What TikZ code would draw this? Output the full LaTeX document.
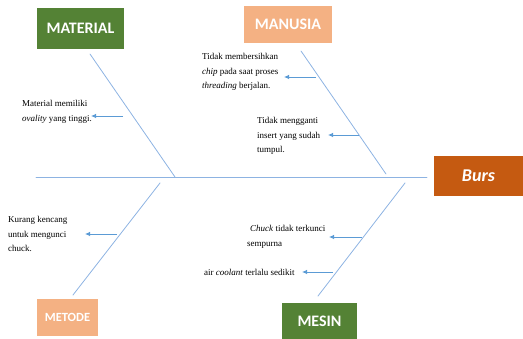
\documentclass[tikz,border=0pt]{standalone}
\usepackage{fontspec}
\setmainfont{Liberation Serif}
\newfontfamily\lblfont{Carlito}
\usepackage{tikz}
\usetikzlibrary{calc, arrows.meta, positioning}
\usepackage{tkz-base, tkz-euclide}
\definecolor{bone}{HTML}{8DB3E2}
\definecolor{arrowblue}{HTML}{5B9BD5}
\definecolor{catgreen}{HTML}{548235}
\definecolor{catpeach}{HTML}{F4B183}
\definecolor{bursorange}{HTML}{C55A11}
\tikzset{
  cat/.style={text=white, inner sep=0pt, font=\lblfont\bfseries\fontsize{16}{16}\selectfont},
  cause/.style={align=left, anchor=west, inner sep=1pt, font=\fontsize{9}{14.5}\selectfont},
  causearrow/.style={-{Latex[length=5pt,width=4.5pt]}, arrowblue, line width=0.8pt},
}

\begin{document}
\begin{tikzpicture}[>=latex, x=1pt, y=-1pt]
\useasboundingbox (0,0) rectangle (523,339);
    \tkzDefPoints{36/177/S_1, 427/177/S_2, 90/54/A_1, 175/177/A_2, 301/51/B_1, 386/174/B_2,
160/183/C_1, 73/295/C_2, 405/183/D_1, 318/296/D_2}
\tkzDefPoints{123/116/A_3, 91/116/A_4, 316/77/B_3, 284/77/B_4, 359/135/B_5, 328/135/B_6,
117/234/C_3, 85/234/C_4, 362/237/D_3, 329/237/D_4, 333/272/D_5, 302/272/D_6}
\tkzDrawSegments[color=bone, line width=0.8pt](S_1,S_2 A_1,A_2 B_1,B_2 C_1,C_2 D_1,D_2)
% categories
\node[cat, fill=catgreen, minimum width=87pt, minimum height=41pt] (material) at (80.5,28.5) {MATERIAL};
\node[cat, fill=catpeach, minimum width=88pt, minimum height=37pt] (manusia) at (288,24.5) {MANUSIA};
\node[cat, fill=catpeach, minimum width=61pt, minimum height=37pt, font=\lblfont\bfseries\fontsize{12.5}{12.5}\selectfont] (metode) at (67.5,317.5) {METODE};
\node[cat, fill=catgreen, minimum width=75pt, minimum height=37pt] (mesin) at (319.5,321.5) {MESIN};
\node[cat, fill=bursorange, minimum width=89pt, minimum height=40pt, font=\lblfont\bfseries\itshape\fontsize{18}{18}\selectfont] (burs) at (478.5,176) {Burs};
% causes
\node[cause] (ovality) at (21,112) {Material memiliki\\\textit{ovality} yang tinggi.};
\node[cause] (chip) at (201,72) {Tidak membersihkan\\\textit{chip} pada saat proses\\\textit{threading} berjalan.};
\node[cause] (insert) at (256,136) {Tidak mengganti\\insert yang sudah\\tumpul.};
\node[cause] (kencang) at (7,234) {Kurang kencang\\untuk mengunci\\chuck.};
\node[cause] (chuck) at (246,237) {\hspace{3pt}\textit{Chuck} tidak terkunci\\sempurna};
\node[cause] (coolant) at (203,272) {air \textit{coolant} terlalu sedikit};
\draw[causearrow] (A_3) -- (A_4);
\draw[causearrow] (B_3) -- (B_4);
\draw[causearrow] (B_5) -- (B_6);
\draw[causearrow] (C_3) -- (C_4);
\draw[causearrow] (D_3) -- (D_4);
\draw[causearrow] (D_5) -- (D_6);
  \end{tikzpicture}
\end{document}
